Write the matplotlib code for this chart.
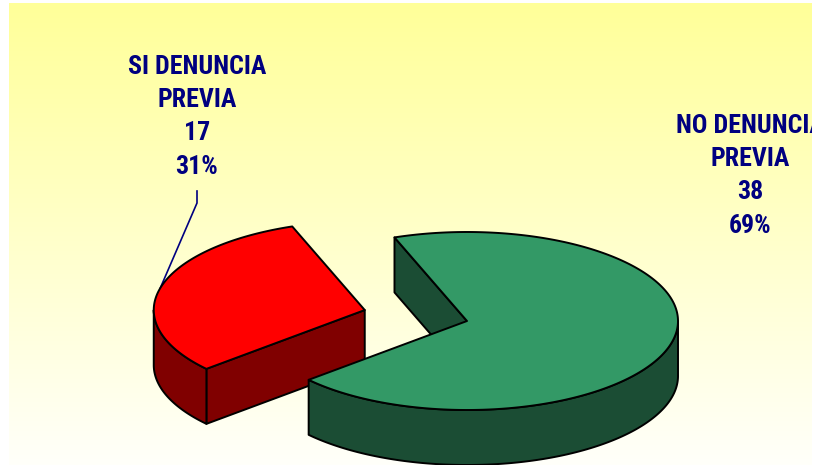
import numpy as np
import matplotlib
matplotlib.use("Agg")
import matplotlib.pyplot as plt
from matplotlib.patches import Polygon
from matplotlib.transforms import Bbox, TransformedBbox

# ---- data ----
categories = ["SI DENUNCIA\nPREVIA", "NO DENUNCIA\nPREVIA"]
values = [17, 38]
top_colors = ["#FF0000", "#339966"]
side_colors = ["#800000", "#1B4D34"]
explode = [0.5, 0.0]

# ---- layout ----
W, H = 828, 465
fig = plt.figure(figsize=(W / 100, H / 100), dpi=100)
ax = fig.add_axes([0, 0, 1, 1])
ax.axis("off")

bx0, bx1, by0, by1 = 9, 812, 4, 465
grad = np.linspace(0, 1, 256)[:, None, None]
ctop = np.array([255, 255, 153]) / 255
cbot = np.array([255, 255, 250]) / 255
img = ctop[None, None, :] * (1 - grad) + cbot[None, None, :] * grad
img = np.repeat(img, 2, axis=1)
ax.imshow(img, extent=[bx0, bx1, by1, by0], aspect="auto", zorder=0,
          interpolation="bilinear")
ax.set_xlim(0, W)
ax.set_ylim(H, 0)

cx, cy = 467, 321
a, b, depth = 211, 89, 55
start = 110.1
total = sum(values)
spans = [360.0 * v / total for v in values]

edge_kw = dict(edgecolor="black", linewidth=1.4, joinstyle="round")


def pt(c, t, dz=0.0):
    r = np.radians(t)
    return (c[0] + a * np.cos(r), c[1] - b * np.sin(r) + dz)


def arc(c, t1, t2, dz=0.0, n=None):
    if n is None:
        n = max(int(abs(t2 - t1)), 2) * 2
    ts = np.linspace(t1, t2, n)
    return [pt(c, t, dz) for t in ts]


bounds = []
t = start
for s in spans:
    bounds.append((t, t + s))
    t += s

mid_pts = []
for i, (t1, t2) in enumerate(bounds):
    tm = np.radians((t1 + t2) / 2)
    c = (cx + explode[i] * a * np.cos(tm), cy - explode[i] * b * np.sin(tm))
    z = 2 + i * 3
    # radial faces
    if np.cos(np.radians(t1)) > 0:
        e = pt(c, t1)
        ax.add_patch(Polygon([c, e, (e[0], e[1] + depth), (c[0], c[1] + depth)],
                             closed=True, facecolor=side_colors[i], zorder=z, **edge_kw))
    if np.cos(np.radians(t2)) < 0:
        e = pt(c, t2)
        ax.add_patch(Polygon([c, e, (e[0], e[1] + depth), (c[0], c[1] + depth)],
                             closed=True, facecolor=side_colors[i], zorder=z, **edge_kw))
    # outer curved side (front half only)
    for k in range(-1, 3):
        lo = max(t1, 180 + 360 * k)
        hi = min(t2, 360 + 360 * k)
        if hi > lo:
            topa = arc(c, lo, hi)
            bota = arc(c, hi, lo, depth)
            ax.add_patch(Polygon(topa + bota, closed=True,
                                 facecolor=side_colors[i], zorder=z + 1, **edge_kw))
    # top face
    ax.add_patch(Polygon([c] + arc(c, t1, t2), closed=True,
                         facecolor=top_colors[i], zorder=z + 2, **edge_kw))
    mid_pts.append(pt(c, (t1 + t2) / 2))

# ---- labels ----
navy = "#000080"
fam = ["Roboto Condensed", "Noto Sans Condensed", "Roboto", "Liberation Sans"]
label_x = [197, 750]
label_y0 = [67, 126]
line_h = 33.2
clip = TransformedBbox(Bbox([[bx0, by0], [bx1, by1]]), ax.transData)
for i, name in enumerate(categories):
    lines = name.split("\n") + [str(values[i]), f"{round(100 * values[i] / total)}%"]
    for j, line in enumerate(lines):
        tx = ax.text(label_x[i], label_y0[i] + j * line_h, line, ha="center", va="center",
                     fontsize=18.6, fontweight="bold", fontstretch="condensed",
                     color=navy, family=fam, zorder=20)
        tx.set_clip_box(clip)
        tx.set_clip_on(True)

# leader line for first slice
lx, ly = mid_pts[0]
ax.plot([197, 197, lx], [191, 203, ly], color=navy, lw=1.2, zorder=1.5,
        solid_joinstyle="miter")

fig.savefig("out.png", dpi=100)
